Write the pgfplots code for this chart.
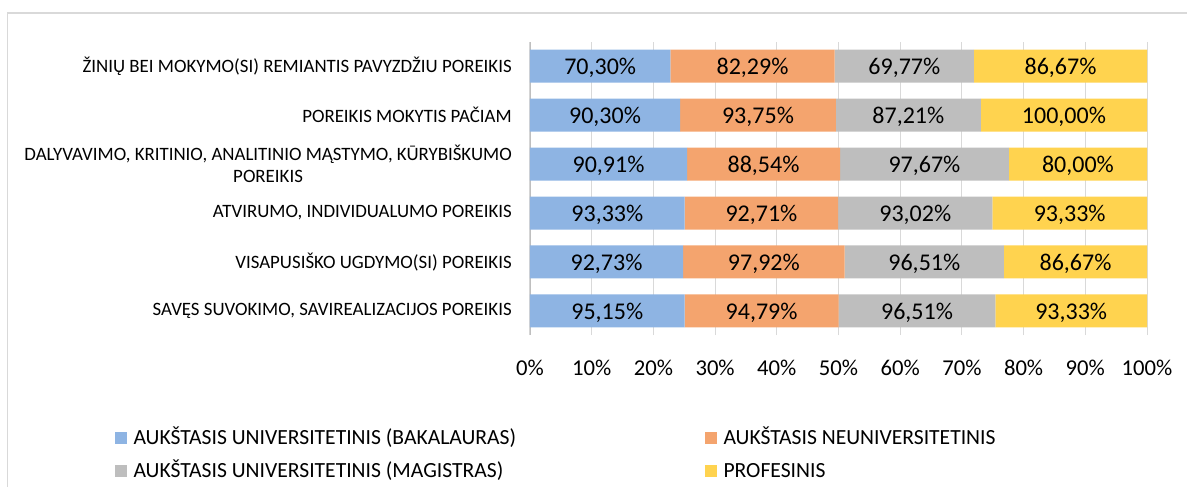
\documentclass[border=0pt]{standalone}
\usepackage{fontspec}
\setmainfont{Carlito}
\usepackage{pgfplots}
\usepackage{pgfplotstable}
\pgfplotsset{compat=1.18}
\usetikzlibrary{calc}

\definecolor{cBlue}{RGB}{142,180,227}
\definecolor{cOrange}{RGB}{244,164,110}
\definecolor{cGray}{RGB}{190,190,190}
\definecolor{cYellow}{RGB}{255,211,79}
\definecolor{cGrid}{RGB}{217,217,217}
\definecolor{cAxis}{RGB}{191,191,191}

% rows from bottom (0) to top (5); raw values shown on the bars
\pgfplotstableread{
y a b c d
0 95.15 94.79 96.51 93.33
1 92.73 97.92 96.51 86.67
2 93.33 92.71 93.02 93.33
3 90.91 88.54 97.67 80.00
4 90.30 93.75 87.21 100.00
5 70.30 82.29 69.77 86.67
}\data

\newcommand{\tot}{(\thisrow{a}+\thisrow{b}+\thisrow{c}+\thisrow{d})}

\pgfplotsset{
  base/.style={
    at={(0,0)}, anchor=south west,
    scale only axis, width=462.75pt, height=219.75pt,
    xmin=0, xmax=100, ymin=-0.49, ymax=5.49,
  },
  barlabel/.style={
    draw=none, mark=none, point meta=explicit,
    nodes near coords={\pgfmathprintnumber[fixed,fixed zerofill,precision=2,use comma,assume math mode=true]{\pgfplotspointmeta}\%},
    every node near coord/.append style={anchor=base, yshift=-6.6pt, inner sep=0pt,
      text=black, font=\fontsize{18}{20}\selectfont},
  },
}

\begin{document}
\begin{tikzpicture}
\begin{axis}[
  base,
  xbar stacked, bar width=24.75pt,
  /pgf/number format/assume math mode=true,
  axis line style={draw=none}, tick style={draw=none},
  xmajorgrids, grid style={cGrid, line width=0.75pt},
  xtick={0,10,...,100},
  xticklabel={\pgfmathprintnumber{\tick}\%},
  xticklabel style={anchor=base, yshift=-30pt, inner sep=0pt,
    font=\fontsize{17}{20}\selectfont},
  ytick={0,...,5},
  yticklabels={
    {SAVĘS SUVOKIMO, SAVIREALIZACIJOS POREIKIS},
    {VISAPUSIŠKO UGDYMO(SI) POREIKIS},
    {ATVIRUMO, INDIVIDUALUMO POREIKIS},
    {DALYVAVIMO, KRITINIO, ANALITINIO MĄSTYMO, KŪRYBIŠKUMO\\POREIKIS},
    {POREIKIS MOKYTIS PAČIAM},
    {ŽINIŲ BEI MOKYMO(SI) REMIANTIS PAVYZDŽIU POREIKIS}},
  yticklabel style={align=center, inner xsep=0pt, xshift=-13.5pt,
    font=\fontsize{14.15}{16.5}\selectfont},
  legend columns=2,
  legend image code/.code={\fill[#1] (0pt,-4.3pt) rectangle (8.6pt,4.3pt);},
  legend style={at={(0,0)}, anchor=north west, xshift=-311.25pt, yshift=-68.9pt,
    draw=none, fill=none, inner sep=0pt, row sep=8.75pt,
    font=\fontsize{16.2}{18}\selectfont,
    nodes={inner xsep=5.1pt, inner ysep=0pt, text height=13pt, text depth=3pt}},
  legend cell align=left,
]
\addplot[fill=cBlue, draw=none] table[x expr=\thisrow{a}/\tot*100, y=y] {\data};
\addlegendentry{\makebox[423.7pt][l]{AUKŠTASIS UNIVERSITETINIS (BAKALAURAS)}}
\addplot[fill=cOrange, draw=none] table[x expr=\thisrow{b}/\tot*100, y=y] {\data};
\addlegendentry{\makebox[423.7pt][l]{AUKŠTASIS NEUNIVERSITETINIS}}
\addplot[fill=cGray, draw=none] table[x expr=\thisrow{c}/\tot*100, y=y] {\data};
\addlegendentry{\makebox[423.7pt][l]{AUKŠTASIS UNIVERSITETINIS (MAGISTRAS)}}
\addplot[fill=cYellow, draw=none] table[x expr=\thisrow{d}/\tot*100, y=y] {\data};
\addlegendentry{\makebox[423.7pt][l]{PROFESINIS}}
\draw[cAxis, line width=1.1pt] (rel axis cs:0,0) -- (rel axis cs:0,1);
\end{axis}

% labels centred in each segment
\begin{axis}[base, hide axis]
\addplot[barlabel] table[x expr=0.5*\thisrow{a}/\tot*100, y=y, meta=a] {\data};
\addplot[barlabel] table[x expr=(\thisrow{a}+0.5*\thisrow{b})/\tot*100, y=y, meta=b] {\data};
\addplot[barlabel] table[x expr=(\thisrow{a}+\thisrow{b}+0.5*\thisrow{c})/\tot*100, y=y, meta=c] {\data};
\addplot[barlabel] table[x expr=(\thisrow{a}+\thisrow{b}+\thisrow{c}+0.5*\thisrow{d})/\tot*100, y=y, meta=d] {\data};
\end{axis}

\draw[cGrid, line width=1.1pt] (-391.9pt,-300pt) -- (-391.9pt,241.5pt) -- (700pt,241.5pt);
\pgfresetboundingbox
\path[use as bounding box] (-397.5pt,-113.25pt) rectangle (492.75pt,251.25pt);
\end{tikzpicture}
\end{document}
